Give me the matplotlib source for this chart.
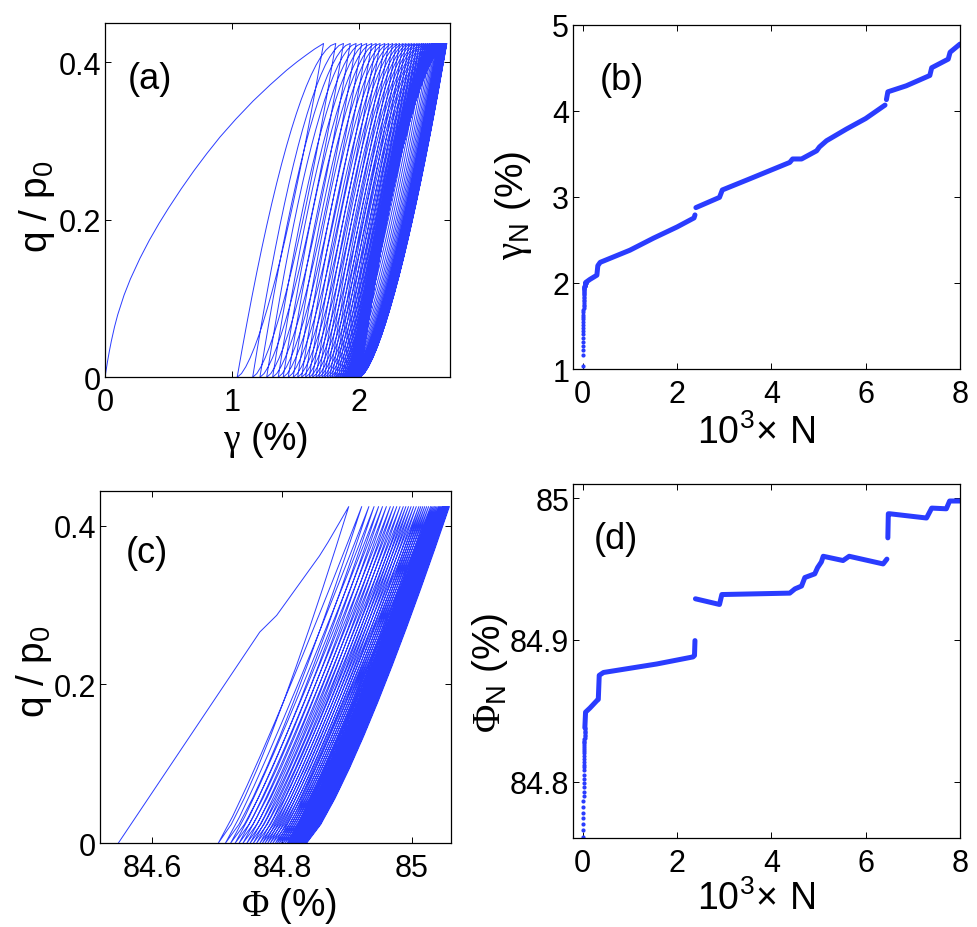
import numpy as np
import matplotlib
matplotlib.use('Agg')
import matplotlib.pyplot as plt

plt.rcParams['font.family'] = ['Liberation Sans Narrow', 'Liberation Sans', 'DejaVu Sans']
plt.rcParams['mathtext.fontset'] = 'custom'
plt.rcParams['mathtext.rm'] = 'Liberation Sans'
plt.rcParams['mathtext.it'] = 'Liberation Sans'
plt.rcParams['mathtext.sf'] = 'Liberation Serif'

BLUE = '#2a3cff'

# ---------------- panel (a): q/p0 vs gamma ----------------
Q_MAX = 0.424
GAMMA_FIRST = [0.0, 0.01, 0.02, 0.035, 0.05, 0.075, 0.1, 0.15, 0.2, 0.275, 0.35, 0.425, 0.5,
               0.6, 0.7, 0.8, 0.904, 1.03, 1.166, 1.3, 1.429, 1.51, 1.586, 1.65, 1.72]
Q_FIRST = [0.0, 0.0105, 0.0203, 0.0338, 0.0461, 0.0641, 0.0794, 0.1044, 0.1249, 0.1511, 0.1744,
           0.1954, 0.2149, 0.2394, 0.2624, 0.2839, 0.3050, 0.3280, 0.3510, 0.3715, 0.3900,
           0.4005, 0.4096, 0.4170, 0.4240]
GAMMA_VALLEY = [1.040, 1.162, 1.219, 1.272, 1.319, 1.363, 1.402, 1.442, 1.481, 1.516,
                1.547, 1.578, 1.607, 1.633, 1.660, 1.683, 1.707, 1.728, 1.749, 1.770,
                1.788, 1.807, 1.822, 1.838, 1.854, 1.869, 1.882, 1.894, 1.905, 1.915,
                1.924, 1.932, 1.939, 1.945, 1.950, 1.955, 1.959, 1.963, 1.967, 1.970,
                1.973, 1.976, 1.979, 1.981, 1.983, 1.985, 1.987, 1.989, 1.991, 1.993,
                1.994, 1.995, 1.996, 1.997, 1.998, 1.999, 2.000, 2.001, 2.002, 2.003,
                2.004, 2.005]
GAMMA_PEAK_EARLY = [1.72, 1.816, 1.877, 1.930, 1.976, 2.020, 2.060, 2.100, 2.134, 2.165]
GAMMA_LOAD_SPAN = 0.686

# normalised branch shapes read from the loops (strain fraction -> stress fraction)
BR_S = [0.0, 0.05, 0.10, 0.15, 0.20, 0.25, 0.30, 0.35, 0.40, 0.45, 0.50,
        0.55, 0.60, 0.65, 0.70, 0.75, 0.80, 0.85, 0.90, 0.95, 1.0]
LOAD_R = [0.0, 0.0835, 0.164, 0.2414, 0.3157, 0.3868, 0.4547, 0.5192, 0.5804, 0.6381, 0.6922,
          0.7427, 0.7894, 0.8322, 0.8709, 0.9053, 0.9352, 0.9603, 0.9800, 0.9939, 1.0]
UNLOAD_R = [0.0, 0.0112, 0.0316, 0.0581, 0.0894, 0.125, 0.1643, 0.2071, 0.2530, 0.3019, 0.3536,
            0.4079, 0.4648, 0.5241, 0.5857, 0.6495, 0.7155, 0.7837, 0.8538, 0.9260, 1.0]

# ---------------- panel (b): gamma_N vs N ----------------
N_B = [0.062, 0.15, 0.30, 0.32, 0.37, 1.0, 1.5, 2.0, 2.36, 2.38, np.nan,
       2.40, 2.90, 2.96, 3.5, 4.39, 4.45, 4.64, 4.96, 5.02, 5.17, 5.59, 6.0, 6.41, np.nan,
       6.44, 6.47, 6.86, 7.36, 7.40, 7.75, 7.79, 8.0]
G_B = [2.005, 2.04, 2.09, 2.20, 2.239, 2.38, 2.52, 2.65, 2.755, 2.79, np.nan,
       2.875, 2.994, 3.08, 3.20, 3.40, 3.44, 3.44, 3.535, 3.58, 3.652, 3.787, 3.91, 4.066, np.nan,
       4.13, 4.22, 4.29, 4.41, 4.50, 4.60, 4.68, 4.775]

# ---------------- panel (c): q/p0 vs Phi ----------------
PHI_FIRST = [84.548, 84.766, 84.792, 84.858, 84.871, 84.903]
QC_FIRST = [0.0, 0.266, 0.287, 0.362, 0.379, 0.424]
PHI_VALLEY = [84.702, 84.713, 84.721, 84.728, 84.734, 84.740, 84.746, 84.751, 84.756, 84.761,
              84.766, 84.770, 84.774, 84.778, 84.782, 84.786, 84.790, 84.793, 84.796, 84.799,
              84.802, 84.805, 84.808, 84.810, 84.812, 84.814, 84.816, 84.818, 84.820, 84.8215,
              84.823, 84.8245, 84.826, 84.827, 84.828, 84.829, 84.830, 84.831, 84.832, 84.833,
              84.834, 84.835, 84.836, 84.837, 84.838]
PHI_PEAK_FIRST = 84.903
PHI_LOAD_SPAN = 0.221
BRC_S = [0.0, 0.1, 0.2, 0.3, 0.4, 0.5, 0.6, 0.7, 0.8, 0.9, 1.0]
LOADC_R = [0.0, 0.0794, 0.1703, 0.2660, 0.3650, 0.4665, 0.5701, 0.6755, 0.7823, 0.8906, 1.0]
UNLOADC_R = [0.0, 0.0562, 0.1338, 0.2221, 0.3181, 0.4204, 0.5281, 0.6403, 0.7566, 0.8766, 1.0]

# ---------------- panel (d): Phi_N vs N ----------------
N_D = [0.045, 0.06, 0.155, 0.296, 0.33, 0.35, 0.44, 1.57, 2.34, 2.37, 2.38, np.nan,
       2.39, 2.9, 2.95, 4.39, 4.5, 4.64, 4.71, 4.92, 4.98, 5.06, 5.1, 5.52, 5.65, 6.37, 6.45, np.nan,
       6.47, 6.48, 6.51, 7.29, 7.4, 7.71, 7.78, 8.0]
P_D = [84.838, 84.849, 84.852, 84.857, 84.858, 84.875, 84.877, 84.883, 84.888, 84.889, 84.8995, np.nan,
       84.929, 84.925, 84.932, 84.933, 84.936, 84.938, 84.944, 84.9466, 84.951, 84.955, 84.959,
       84.956, 84.959, 84.9536, 84.957, np.nan,
       84.972, 84.989, 84.989, 84.986, 84.993, 84.9925, 84.998, 84.998]


def cycle_path(first_x, first_y, valleys, peaks, s, load_r, unload_r, qmax):
    xs = list(first_x)
    ys = list(first_y)
    s = np.asarray(s)
    lr = np.asarray(load_r)
    ur = np.asarray(unload_r)
    prev = None
    for p, v in zip(peaks, valleys):
        if prev is not None:
            xs.extend(prev + (p - prev) * s)
            ys.extend(qmax * lr)
        xs.extend((v + (p - v) * s)[::-1])
        ys.extend((qmax * ur)[::-1])
        prev = v
    return xs, ys


def style(ax):
    for sp in ax.spines.values():
        sp.set_linewidth(0.9)
        sp.set_color('black')
    ax.tick_params(direction='in', top=True, right=True, length=4, width=0.7,
                   labelsize=22, colors='black')
    ax.tick_params(axis='x', pad=7)
    ax.tick_params(axis='y', pad=3)


W, H = 977, 928
fig = plt.figure(figsize=(W / 100, H / 100), dpi=100)


def axes_px(l, r, t, b):
    return fig.add_axes([l / W, 1 - b / H, (r - l) / W, (b - t) / H])


# (a)
axA = axes_px(105, 450, 24, 378.3)
peaks_a = list(GAMMA_PEAK_EARLY) + [GAMMA_VALLEY[k - 1] + GAMMA_LOAD_SPAN
                                     for k in range(len(GAMMA_PEAK_EARLY), len(GAMMA_VALLEY))]
xa, ya = cycle_path(GAMMA_FIRST, Q_FIRST, GAMMA_VALLEY, peaks_a, BR_S, LOAD_R, UNLOAD_R, Q_MAX)
axA.plot(xa, ya, color=BLUE, lw=0.7, solid_joinstyle='round')
axA.set_xlim(0, 2.715)
axA.set_ylim(0, 0.45)
axA.set_xticks([0, 1, 2])
axA.set_xticklabels(['0', '1', '2'])
axA.set_yticks([0, 0.2, 0.4])
axA.set_yticklabels(['0', '0.2', '0.4'])
style(axA)
axA.text(0.13, 0.842, '(a)', transform=axA.transAxes, fontsize=26, ha='center', va='center')

# (b)
axB = axes_px(573.3, 960, 25.7, 370)
n_dots = np.arange(1, len(GAMMA_VALLEY) + 1) / 1000.0
axB.plot(n_dots, GAMMA_VALLEY, 'o', color=BLUE, ms=3.0, mec='none')
axB.plot(N_B, G_B, color=BLUE, lw=3.6, solid_capstyle='round', solid_joinstyle='round')
axB.set_xlim(-0.2, 8)
axB.set_ylim(1, 5)
axB.set_xticks([0, 2, 4, 6, 8])
axB.set_yticks([1, 2, 3, 4, 5])
style(axB)
axB.text(0.125, 0.842, '(b)', transform=axB.transAxes, fontsize=26, ha='center', va='center')

# (c)
axC = axes_px(100, 450.7, 491.7, 844.3)
peaks_c = [PHI_PEAK_FIRST] + [PHI_VALLEY[k - 1] + PHI_LOAD_SPAN for k in range(1, len(PHI_VALLEY))]
xc, yc = cycle_path(PHI_FIRST, QC_FIRST, PHI_VALLEY, peaks_c, BRC_S, LOADC_R, UNLOADC_R, Q_MAX)
axC.plot(xc, yc, color=BLUE, lw=0.7, solid_joinstyle='round')
axC.set_xlim(84.52, 85.06)
axC.set_ylim(0, 0.444)
axC.set_xticks([84.6, 84.8, 85.0])
axC.set_xticklabels(['84.6', '84.8', '85'])
axC.set_yticks([0, 0.2, 0.4])
axC.set_yticklabels(['0', '0.2', '0.4'])
style(axC)
axC.text(0.133, 0.826, '(c)', transform=axC.transAxes, fontsize=26, ha='center', va='center')

# (d)
axD = axes_px(573.3, 960, 485, 839.3)
n_dots_d = np.arange(1, len(PHI_VALLEY) + 1) / 1000.0
axD.plot(n_dots_d, PHI_VALLEY, 'o', color=BLUE, ms=3.0, mec='none')
axD.plot(N_D, P_D, color=BLUE, lw=3.6, solid_capstyle='round', solid_joinstyle='round')
axD.set_xlim(-0.2, 8)
axD.set_ylim(84.76, 85.01)
axD.set_xticks([0, 2, 4, 6, 8])
axD.set_yticks([84.8, 84.9, 85.0])
axD.set_yticklabels(['84.8', '84.9', '85'])
style(axD)
axD.text(0.11, 0.845, '(d)', transform=axD.transAxes, fontsize=26, ha='center', va='center')


def ftext(x, y, s, rot=0, size=27, fam=None):
    kw = dict(rotation=rot, ha='center', va='center', fontsize=size)
    if fam:
        kw['family'] = fam
    fig.text(x / W, 1 - y / H, s, **kw)


YFAM = ['Liberation Sans', 'DejaVu Sans']
ftext(37, 207, r'q / $\mathrm{p}_0$', rot=90, size=28, fam=YFAM)
ftext(266, 440, r'$\mathsf{\gamma}$ (%)', size=27)
ftext(513, 205, r'$\mathsf{\gamma}_\mathrm{N}$ (%)', rot=90, size=28, fam=YFAM)
ftext(756, 433, r'$\mathrm{10^{3}\!\times\!}$ N', size=27)
ftext(34, 672, r'q / $\mathrm{p}_0$', rot=90, size=28, fam=YFAM)
ftext(289, 906, r'$\mathsf{\Phi}$ (%)', size=27)
ftext(490, 673, r'$\mathsf{\Phi}_\mathrm{N}$ (%)', rot=90, size=28, fam=YFAM)
ftext(756, 899, r'$\mathrm{10^{3}\!\times\!}$ N', size=27)

fig.savefig('out.png', dpi=100)
